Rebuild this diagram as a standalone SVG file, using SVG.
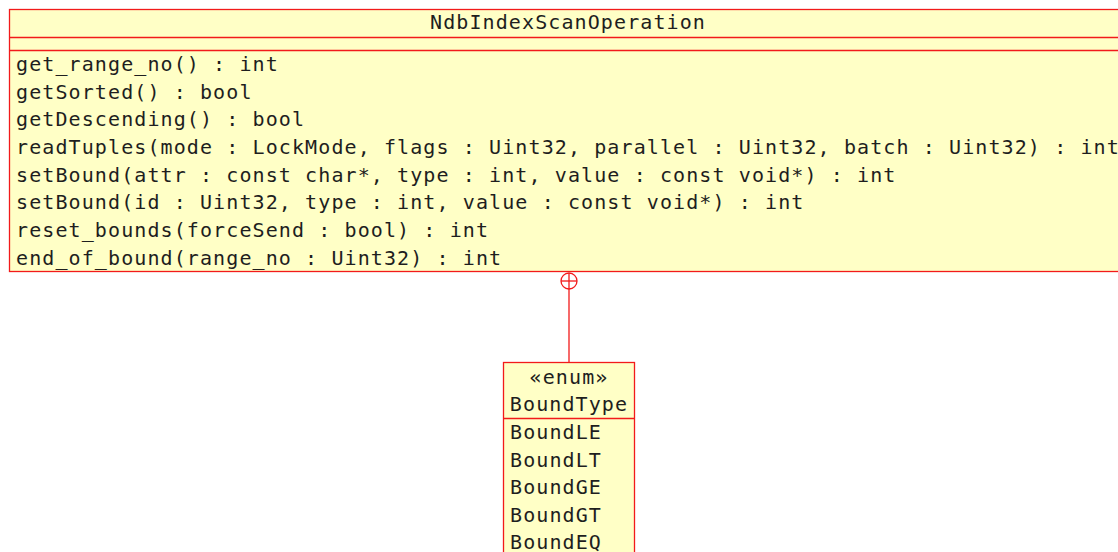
<svg xmlns="http://www.w3.org/2000/svg" width="1118" height="552" viewBox="0 0 1118 552">
  <style>
    .box { fill: #FFFFC6; stroke: #F21A1A; stroke-width: 1.3; }
    .sep { stroke: #F21A1A; stroke-width: 1.3; }
    .txt { font-family: "DejaVu Sans Mono", "Liberation Mono", monospace; font-size: 20px; letter-spacing: 1.1px; fill: #1E1E1E; }
    .mid { text-anchor: middle; }
    .conn { stroke: #F21A1A; stroke-width: 1.3; fill: none; }
  </style>
  <rect width="1118" height="552" fill="#FFFFFF"/>

  <!-- class NdbIndexScanOperation -->
  <g id="NdbIndexScanOperation">
    <rect class="box" x="9.5" y="9.5" width="1120" height="262"/>
    <line class="sep" x1="9.5" y1="37.5" x2="1130" y2="37.5"/>
    <line class="sep" x1="9.5" y1="50.5" x2="1130" y2="50.5"/>
    <text class="txt mid" x="568" y="29">NdbIndexScanOperation</text>
    <text class="txt" x="16" y="70.5">get_range_no() : int</text>
    <text class="txt" x="16" y="98.5">getSorted() : bool</text>
    <text class="txt" x="16" y="126">getDescending() : bool</text>
    <text class="txt" x="16" y="153.5">readTuples(mode : LockMode, flags : Uint32, parallel : Uint32, batch : Uint32) : int</text>
    <text class="txt" x="16" y="181.5">setBound(attr : const char*, type : int, value : const void*) : int</text>
    <text class="txt" x="16" y="209">setBound(id : Uint32, type : int, value : const void*) : int</text>
    <text class="txt" x="16" y="236.5">reset_bounds(forceSend : bool) : int</text>
    <text class="txt" x="16" y="264.5">end_of_bound(range_no : Uint32) : int</text>
  </g>

  <!-- enum BoundType -->
  <g id="BoundType">
    <rect class="box" x="503.5" y="362.5" width="131" height="200"/>
    <line class="sep" x1="503.5" y1="418.5" x2="634.5" y2="418.5"/>
    <text class="txt mid" x="569" y="384">«enum»</text>
    <text class="txt mid" x="569" y="411">BoundType</text>
    <text class="txt" x="510" y="439">BoundLE</text>
    <text class="txt" x="510" y="466.5">BoundLT</text>
    <text class="txt" x="510" y="494">BoundGE</text>
    <text class="txt" x="510" y="522">BoundGT</text>
    <text class="txt" x="510" y="549">BoundEQ</text>
  </g>

  <!-- nesting connector -->
  <g id="connectors">
    <line class="conn" x1="569" y1="289" x2="569" y2="362.5"/>
    <circle class="conn" cx="569" cy="281" r="8"/>
    <line class="conn" x1="561" y1="281" x2="577" y2="281"/>
    <line class="conn" x1="569" y1="273" x2="569" y2="289"/>
  </g>
</svg>
